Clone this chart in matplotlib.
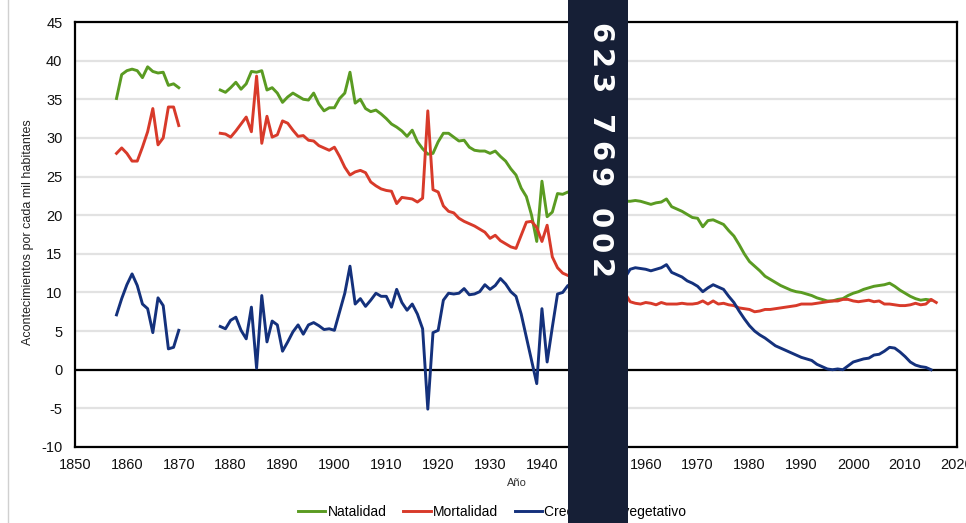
import numpy as np
import matplotlib
matplotlib.use("Agg")
import matplotlib.pyplot as plt
from matplotlib.patches import Rectangle
from matplotlib.lines import Line2D

plt.rcParams['font.family'] = ['Liberation Sans', 'DejaVu Sans']
plt.rcParams['axes.unicode_minus'] = False

# ---- data: tasas por mil habitantes ----
years_a = list(range(1858, 1871))
nat_a = [35.1, 38.2, 38.7, 38.9, 38.7, 37.8, 39.2, 38.6, 38.4, 38.5, 36.8, 37.0, 36.5]
mort_a = [28.0, 28.7, 28.0, 27.0, 27.0, 28.8, 30.8, 33.8, 29.1, 30.0, 34.0, 34.0, 31.6]
crec_a = [7.1, 9.2, 11.0, 12.4, 10.9, 8.5, 7.9, 4.8, 9.3, 8.3, 2.7, 2.9, 5.1]

years_nat = list(range(1878, 2016))
nat_b = [36.2, 35.9,
         36.5, 37.2, 36.3, 37.0, 38.6, 38.5, 38.7, 36.2, 36.5, 35.8,
         34.6, 35.3, 35.8, 35.4, 35.0, 34.9, 35.8, 34.4, 33.5, 33.9,
         33.9, 35.1, 35.8, 38.5, 34.5, 35.0, 33.8, 33.4, 33.6, 33.1,
         32.5, 31.8, 31.4, 30.9, 30.2, 31.0, 29.5, 28.6, 27.9, 28.0,
         29.5, 30.6, 30.6, 30.1, 29.6, 29.7, 28.8, 28.4, 28.3, 28.3,
         28.0, 28.3, 27.6, 27.0, 26.0, 25.2, 23.5, 22.4, 20.0, 16.6,
         24.4, 19.8, 20.4, 22.8, 22.7, 23.0, 22.5, 21.8, 23.0, 21.5,
         20.2, 20.0, 20.7, 20.6, 20.1, 20.6, 21.8, 21.8, 21.9, 21.8,
         21.6, 21.4, 21.6, 21.7, 22.1, 21.1, 20.8, 20.5, 20.1, 19.7,
         19.6, 18.5, 19.3, 19.4, 19.1, 18.8, 18.0, 17.3, 16.2, 15.0,
         14.0, 13.4, 12.8, 12.1, 11.7, 11.3, 10.9, 10.6, 10.3, 10.1,
         10.0, 9.8, 9.6, 9.3, 9.1, 8.9, 8.9, 9.1, 9.2, 9.6,
         9.9, 10.1, 10.4, 10.6, 10.8, 10.9, 11.0, 11.2, 10.8, 10.3,
         9.9, 9.5, 9.2, 9.0, 9.1, 9.0]

years_mort = list(range(1878, 2017))
mort_b = [30.6, 30.5,
          30.1, 30.9, 31.8, 32.7, 30.8, 38.0, 29.3, 32.8, 30.1, 30.4,
          32.2, 31.9, 31.0, 30.2, 30.3, 29.7, 29.6, 29.0, 28.7, 28.4,
          28.8, 27.6, 26.2, 25.2, 25.6, 25.8, 25.5, 24.3, 23.8, 23.4,
          23.2, 23.1, 21.5, 22.3, 22.2, 22.1, 21.7, 22.2, 33.5, 23.3,
          23.0, 21.2, 20.5, 20.3, 19.6, 19.2, 18.9, 18.6, 18.2, 17.8,
          17.0, 17.4, 16.7, 16.3, 15.9, 15.7, 17.4, 19.1, 19.2, 18.4,
          16.6, 18.7, 14.6, 13.2, 12.5, 12.2, 12.0, 11.8, 11.0, 11.5,
          10.9, 11.5, 9.7, 9.9, 9.4, 9.4, 9.9, 8.8, 8.6, 8.5,
          8.7, 8.6, 8.4, 8.7, 8.5, 8.5, 8.5, 8.6, 8.5, 8.5,
          8.6, 8.9, 8.5, 8.9, 8.5, 8.6, 8.4, 8.3, 8.0, 7.9,
          7.8, 7.5, 7.6, 7.8, 7.8, 7.9, 8.0, 8.1, 8.2, 8.3,
          8.5, 8.5, 8.5, 8.6, 8.7, 8.8, 8.9, 8.9, 9.1, 9.1,
          8.9, 8.8, 8.9, 9.0, 8.8, 8.9, 8.5, 8.5, 8.4, 8.3,
          8.3, 8.4, 8.6, 8.4, 8.5, 9.1, 8.7]

crec_b = [5.6, 5.3,
          6.4, 6.8, 5.1, 4.0, 8.1, 0.2, 9.6, 3.6, 6.3, 5.8,
          2.4, 3.6, 4.9, 5.8, 4.6, 5.8, 6.1, 5.7, 5.2, 5.3,
          5.1, 7.5, 9.9, 13.4, 8.5, 9.2, 8.2, 9.0, 9.9, 9.5,
          9.5, 8.1, 10.4, 8.7, 7.7, 8.5, 7.2, 5.3, -5.1, 4.8,
          5.1, 9.0, 9.9, 9.8, 9.9, 10.5, 9.7, 9.8, 10.1, 11.0,
          10.4, 10.9, 11.8, 11.1, 10.1, 9.5, 7.2, 4.2, 1.2, -1.8,
          7.9, 1.0, 5.5, 9.8, 10.0, 10.9, 10.5, 10.0, 12.0, 10.0,
          9.3, 8.5, 11.0, 10.7, 10.7, 11.2, 11.9, 13.0, 13.2, 13.1,
          13.0, 12.8, 13.0, 13.2, 13.6, 12.6, 12.3, 12.0, 11.5, 11.2,
          10.8, 10.1, 10.6, 11.0, 10.7, 10.4, 9.5, 8.7, 7.6, 6.6,
          5.7, 5.0, 4.5, 4.1, 3.6, 3.1, 2.8, 2.5, 2.2, 1.9,
          1.6, 1.4, 1.2, 0.7, 0.4, 0.1, 0.0, 0.1, 0.0, 0.5,
          1.0, 1.2, 1.4, 1.5, 1.9, 2.0, 2.4, 2.9, 2.8, 2.3,
          1.7, 1.0, 0.6, 0.4, 0.3, 0.0]

labels = ["Natalidad", "Mortalidad", "Crecimiento vegetativo"]
colors = ["#5a9b22", "#d83a2a", "#14317c"]
phone = "623 769 002"

W, H = 966, 523
fig = plt.figure(figsize=(W / 100, H / 100), dpi=100)
ax = fig.add_axes([75 / W, 1 - 447 / H, 882 / W, 425 / H])

lw = 2.1
ax.plot(years_a, nat_a, color=colors[0], lw=lw)
ax.plot(years_nat, nat_b, color=colors[0], lw=lw)
ax.plot(years_a, mort_a, color=colors[1], lw=lw)
ax.plot(years_mort, mort_b, color=colors[1], lw=lw)
ax.plot(years_a, crec_a, color=colors[2], lw=lw)
ax.plot(years_nat, crec_b, color=colors[2], lw=lw)

ax.axhline(0, color="black", lw=1.6, zorder=1)
ax.set_xlim(1850, 2020)
ax.set_ylim(-10, 45)
ax.set_xticks(np.arange(1850, 2021, 10))
ax.set_yticks(np.arange(-10, 46, 5))
ax.yaxis.grid(True, color="#e2e2e2", lw=1.6)
ax.set_axisbelow(True)
for s in ax.spines.values():
    s.set_color("black")
    s.set_linewidth(1.6)
ax.tick_params(length=0, labelsize=10.5, labelcolor="#111111")
ax.tick_params(axis="y", pad=9)
ax.tick_params(axis="x", pad=8)

fig.text(28 / W, 1 - 232 / H, "Acontecimientos por cada mil habitantes",
         rotation=90, ha="center", va="center", fontsize=9, color="#222222")
fig.text(517 / W, 1 - 483 / H, "Año", ha="center", va="center",
         fontsize=8, color="#333333")

handles = [Line2D([], [], color=c, lw=lw) for c in colors]
fig.legend(handles, labels, loc="center", bbox_to_anchor=(492 / W, 1 - 512 / H),
           ncol=3, frameon=False, fontsize=10, handlelength=2.0,
           handletextpad=0.15, columnspacing=1.2)

# thin border line at the left edge of the picture
fig.add_artist(Line2D([8 / W, 8 / W], [0, 1], color="#d0d0d0", lw=1))

# dark vertical band with the phone number
fig.add_artist(Rectangle((568 / W, 0), 60 / W, 1, transform=fig.transFigure,
                         facecolor="#161f36", edgecolor="none", zorder=10))
y = 20
for ch in phone:
    step = 15 if ch == " " else 25.8
    if ch != " ":
        fig.text(599 / W, 1 - (y + step / 2) / H, ch, rotation=-90,
                 ha="center", va="center", fontsize=21, fontweight="bold",
                 family="DejaVu Sans", color="white", zorder=11)
    y += step

fig.savefig("out.png", dpi=100)
